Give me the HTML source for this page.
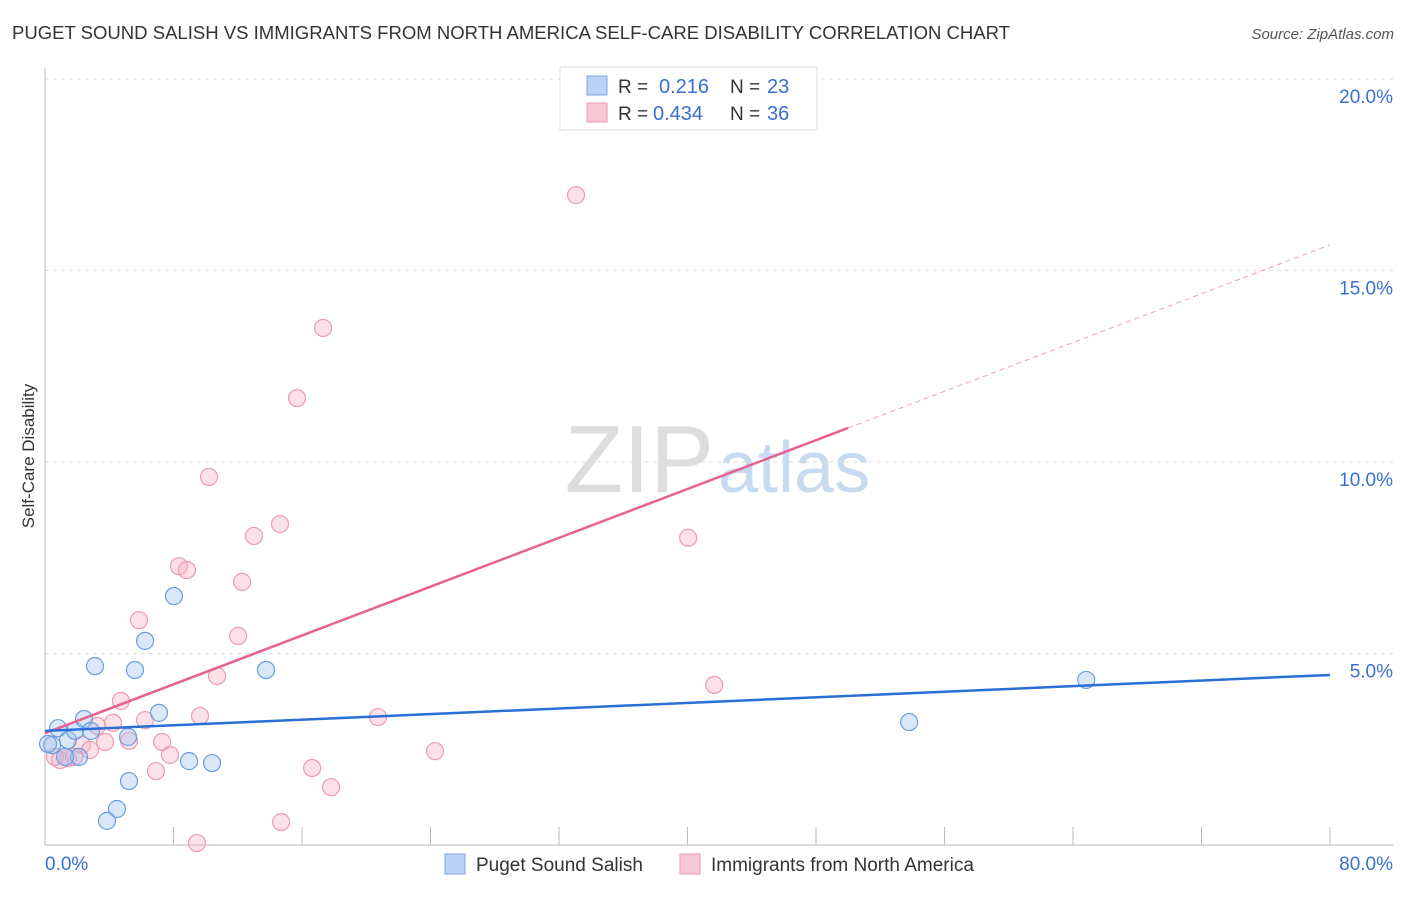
<!DOCTYPE html>
<html><head><meta charset="utf-8"><style>
body{margin:0;background:#fff;font-family:"Liberation Sans",sans-serif}
svg text{font-family:"Liberation Sans",sans-serif}
</style></head><body>
<svg id="chart" width="1406" height="892" xmlns="http://www.w3.org/2000/svg">
<text x="12" y="39" font-size="18" fill="#333" textLength="998" lengthAdjust="spacingAndGlyphs">PUGET SOUND SALISH VS IMMIGRANTS FROM NORTH AMERICA SELF-CARE DISABILITY CORRELATION CHART</text>
<text x="1394" y="39" font-size="15" fill="#555" font-style="italic" text-anchor="end">Source: ZipAtlas.com</text>
<text x="714" y="492" font-size="96" fill="#ddd" text-anchor="end" font-family="Liberation Serif">ZIP</text>
<text x="718" y="492" font-size="72" fill="#c8daf0">atlas</text>
<g id="grid"></g>
<g id="axes"></g>
<g id="marks"></g>
<text transform="translate(34,456) rotate(-90)" font-size="17" fill="#333" text-anchor="middle">Self-Care Disability</text>
<g>
<rect x="560" y="67" width="257" height="63" fill="#fff" stroke="#ddd"/>
<rect x="587" y="76" width="20" height="19" fill="#b9d3f5" stroke="#7aa6e0"/>
<rect x="587" y="103" width="20" height="19" fill="#f9c8d6" stroke="#eb9bb3"/>
<text x="618" y="93" font-size="19" fill="#333">R =</text>
<text x="659" y="93" font-size="20" fill="#3a6fd0">0.216</text>
<text x="730" y="93" font-size="19" fill="#333">N =</text>
<text x="767" y="93" font-size="20" fill="#3a6fd0">23</text>
<text x="618" y="120" font-size="19" fill="#333">R =</text>
<text x="653" y="120" font-size="20" fill="#3a6fd0">0.434</text>
<text x="730" y="120" font-size="19" fill="#333">N =</text>
<text x="767" y="120" font-size="20" fill="#3a6fd0">36</text>
</g>
<g>
<rect x="445" y="854" width="20" height="20" fill="#b9d3f5" stroke="#7aa6e0"/>
<text x="476" y="871" font-size="19" fill="#333">Puget Sound Salish</text>
<rect x="680" y="854" width="20" height="20" fill="#f9c8d6" stroke="#eb9bb3"/>
<text x="711" y="871" font-size="19" fill="#333">Immigrants from North America</text>
</g>
</svg>
<script>
const yTicks=[5,10,15,20];
const yTickLabels=["5.0%","10.0%","15.0%","20.0%"];
const xTicks=[0,8,16,24,32,40,48,56,64,72,80];
const xEndLabels=["0.0%","80.0%"];
const blueX=[0.44,0.81,1.43,1.87,2.43,2.12,2.86,3.11,1.25,5.17,5.6,6.23,7.1,8.03,5.23,4.48,3.86,8.97,10.4,13.76,53.8,64.82,0.19];
const blueY=[2.61,3.05,2.74,2.98,3.29,2.30,2.98,4.67,2.30,2.82,4.57,5.33,3.45,6.50,1.67,0.94,0.63,2.19,2.14,4.57,3.21,4.31,2.64];
const pinkX=[33.06,17.31,15.69,10.21,14.63,13.01,40.04,8.34,8.84,12.27,5.85,12.02,10.71,41.66,4.73,9.65,20.73,6.23,4.23,3.24,5.23,7.29,3.74,2.3,2.8,7.78,24.28,0.93,1.43,0.62,16.63,6.91,17.81,14.7,9.46,1.81];
const pinkY=[16.97,13.5,11.67,9.61,8.38,8.07,8.02,7.28,7.18,6.87,5.87,5.46,4.41,4.18,3.76,3.37,3.34,3.26,3.19,3.11,2.72,2.69,2.69,2.61,2.48,2.35,2.45,2.22,2.27,2.30,2.01,1.93,1.51,0.60,0.05,2.30];
const blueTrend=[2.98,4.44];
const pinkTrend=[2.92,15.67];
const pinkSolidEnd=50;
const NS="http://www.w3.org/2000/svg";
const X=v=>45+v*1285/80;
const Y=v=>845-v*38.3;
function mk(tag,attrs,parent){const e=document.createElementNS(NS,tag);for(const k in attrs)e.setAttribute(k,attrs[k]);document.getElementById(parent).appendChild(e);return e;}
yTicks.forEach((t,i)=>{
 const l=mk('line',{x1:45,x2:1394,y1:Y(t),y2:Y(t),stroke:'#ddd','stroke-dasharray':'4,4'},'grid');
 
 
 const tx=mk('text',{x:1393,y:Y(t)+24,'font-size':19,fill:'#3a6fd0','text-anchor':'end'},'axes');
 tx.textContent=yTickLabels[i];
 
 
});
const ax=mk('line',{x1:45,x2:45,y1:68,y2:845,stroke:'#bbb'},'axes');


const bx=mk('line',{x1:45,x2:1394,y1:845,y2:845,stroke:'#bbb'},'axes');


xTicks.forEach(t=>{
 const l=mk('line',{x1:X(t),x2:X(t),y1:827,y2:845,stroke:'#bbb'},'axes');
 
 
});
const xl0=mk('text',{x:45,y:870,'font-size':19,fill:'#3a6fd0'},'axes');
xl0.textContent=xEndLabels[0];


const xl1=mk('text',{x:1393,y:870,'font-size':19,fill:'#3a6fd0','text-anchor':'end'},'axes');
xl1.textContent=xEndLabels[1];


pinkX.forEach((v,i)=>{
 const c=mk('circle',{cx:X(v),cy:Y(pinkY[i]),r:8.5,fill:'rgba(246,170,192,0.35)',stroke:'#eb9bb3','stroke-width':1.2},'marks');
 
 
});
blueX.forEach((v,i)=>{
 const c=mk('circle',{cx:X(v),cy:Y(blueY[i]),r:8.5,fill:'rgba(160,195,240,0.4)',stroke:'#6b9de0','stroke-width':1.2},'marks');
 
 
});
const pAt=x=>pinkTrend[0]+(pinkTrend[1]-pinkTrend[0])*x/80;
const pl=mk('line',{x1:X(0),y1:Y(pinkTrend[0]),x2:X(pinkSolidEnd),y2:Y(pAt(pinkSolidEnd)),stroke:'#e6628e','stroke-width':2.5},'marks');


const pd=mk('line',{x1:X(pinkSolidEnd),y1:Y(pAt(pinkSolidEnd)),x2:X(80),y2:Y(pinkTrend[1]),stroke:'#eaa0b8','stroke-width':1,'stroke-dasharray':'5,4'},'marks');


const bl=mk('line',{x1:X(0),y1:Y(blueTrend[0]),x2:X(80),y2:Y(blueTrend[1]),stroke:'#2a6fd6','stroke-width':2.5},'marks');


</script>
</body></html>
